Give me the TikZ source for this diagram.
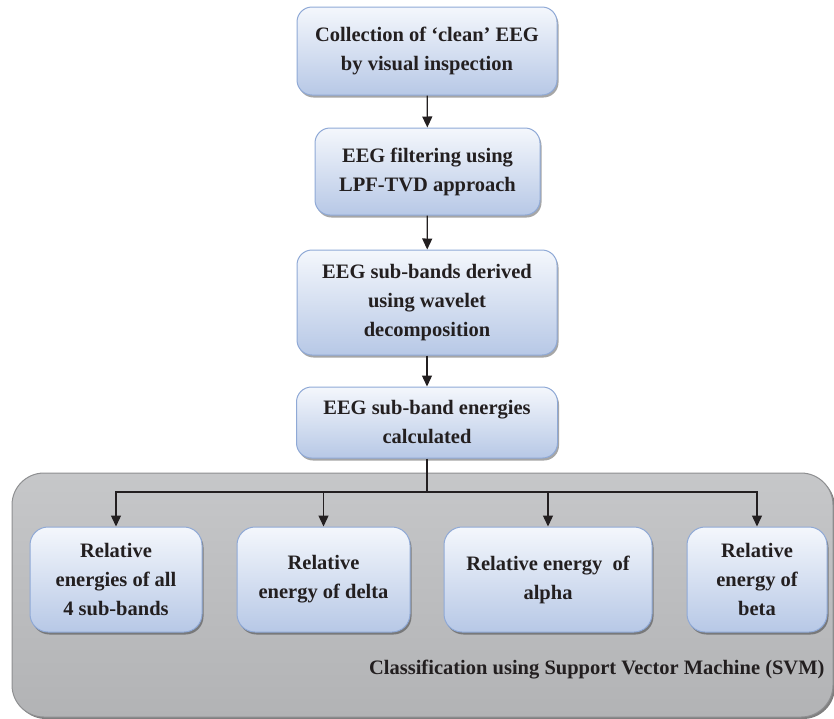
\documentclass[tikz,border=0pt]{standalone}
\usepackage{fontspec}
\setmainfont{Liberation Serif}
\usetikzlibrary{arrows.meta,shadows}
\definecolor{boxtop}{HTML}{F4F7FC}
\definecolor{boxbot}{HTML}{B7C8E6}
\definecolor{boxline}{HTML}{8FA9D6}
\definecolor{txt}{HTML}{231F20}
\definecolor{grytop}{HTML}{C6C7C9}
\definecolor{grybot}{HTML}{B2B3B5}
\definecolor{gryline}{HTML}{8E8F91}
\tikzset{
  flowbox/.style={draw=boxline, line width=1pt, rounded corners=15pt,
    top color=boxtop, bottom color=boxbot, align=center, text=txt,
    font=\fontsize{20.5}{29}\selectfont\bfseries, inner sep=0pt,
    drop shadow={shadow xshift=1.5pt, shadow yshift=-2.5pt, fill=black, opacity=0.35}},
  conn/.style={line width=1.3pt, draw=txt},
  arr/.style={conn, -{Triangle[length=11pt,width=10pt]}},
}
\begin{document}
\begin{tikzpicture}[x=1pt,y=-1pt]
\useasboundingbox (0,0) rectangle (834,718);
% container
\node[draw=gryline, line width=1pt, rounded corners=32pt, top color=grytop, bottom color=grybot,
  minimum width=821pt, minimum height=244pt, inner sep=0pt,
  drop shadow={shadow xshift=2pt, shadow yshift=-2pt, fill=black, opacity=0.5}] (svm) at (422.5,595) {};
\node[anchor=east, text=txt, font=\fontsize{20.5}{29}\selectfont\bfseries] (svmlabel) at (828,670)
  {Classification using Support Vector Machine (SVM)};
% main flow
\node[flowbox, minimum width=260pt, minimum height=88pt] (b1) at (427,51)
  {Collection of `clean' EEG\\by visual inspection};
\node[flowbox, minimum width=225pt, minimum height=87pt] (b2) at (427.5,171.5)
  {EEG filtering using\\LPF-TVD approach};
\node[flowbox, minimum width=260pt, minimum height=105pt] (b3) at (427,302.5)
  {EEG sub-bands derived\\using wavelet\\decomposition};
\node[flowbox, minimum width=261pt, minimum height=71pt] (b4) at (427,422.5)
  {EEG sub-band energies\\calculated};
% bottom boxes
\node[flowbox, rounded corners=18pt, minimum width=172pt, minimum height=105pt] (ba) at (116,579.5)
  {Relative\\energies of all\\4 sub-bands};
\node[flowbox, rounded corners=18pt, minimum width=173pt, minimum height=105pt] (bb) at (323.5,579.5)
  {Relative\\energy of delta};
\node[flowbox, rounded corners=18pt, minimum width=208pt, minimum height=105pt] (bc) at (548,579.5)
  {Relative energy\ \ of\\alpha};
\node[flowbox, rounded corners=18pt, minimum width=140pt, minimum height=105pt] (bd) at (757,579.5)
  {Relative\\energy of\\beta};
% connectors
\draw[arr] (b1) -- (b2);
\draw[arr] (b2) -- (b3);
\draw[arr] (b3) -- (b4);
\coordinate (split) at (427,492);
\draw[conn] (b4.south) -- (split);
\draw[arr] (split) -| (ba.north);
\draw[arr] (split) -| (bb.north);
\draw[arr] (split) -| (bc.north);
\draw[arr] (split) -| (bd.north);
\end{tikzpicture}
\end{document}
